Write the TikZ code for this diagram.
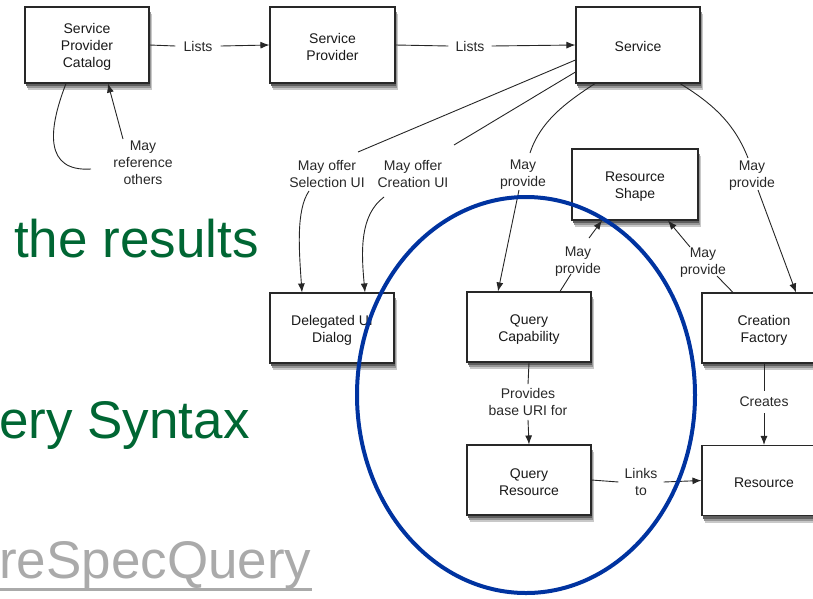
\documentclass[tikz,border=0pt]{standalone}
\usepackage{fontspec}
\setmainfont{Liberation Sans}
\usetikzlibrary{arrows.meta}
\definecolor{boxline}{RGB}{40,40,40}
\definecolor{boxtext}{RGB}{25,25,25}
\definecolor{lbltext}{RGB}{40,40,40}
\definecolor{slidegreen}{RGB}{0,102,51}
\definecolor{linkgray}{RGB}{170,170,170}
\definecolor{ringblue}{RGB}{0,51,160}
\definecolor{shadowA}{RGB}{200,200,200}
\definecolor{shadowB}{RGB}{150,150,150}
\definecolor{shadowC}{RGB}{95,95,95}
\newcommand{\fs}{\rule{0pt}{14pt}}
\begin{document}
\begin{tikzpicture}[x=1pt,y=-1pt,
  box/.style={draw=boxline, line width=1.1pt, fill=white, minimum width=124pt,
    minimum height=70pt, align=center, text=boxtext, inner sep=2pt,
    font=\fontsize{14}{17}\selectfont},
  lbl/.style={align=center, text=lbltext, inner sep=2pt,
    font=\fontsize{14}{17}\selectfont},
  conn/.style={draw=black!85, line width=0.9pt},
  arr/.style={conn, -{Latex[length=9pt,width=7pt]}},
  bigtext/.style={inner sep=0pt, font=\fontsize{53}{60}\selectfont}
]
\useasboundingbox (0,0) rectangle (813,598);

% slide text behind
\node[bigtext, text=slidegreen, anchor=base west] (t1) at (14,257) {the results};
\node[bigtext, text=slidegreen, anchor=base west] (t2) at (-1,438) {ery Syntax};
\node[bigtext, text=linkgray, anchor=base west] (t3) at (-1,578) {reSpecQuery};
\draw[linkgray, line width=2.6pt] ([yshift=-0.5pt]t3.south west) -- ([yshift=-0.5pt]t3.south east);

% box shadows (offset rectangles drawn before the boxes)
\fill[shadowA] (28,14) rectangle (152,90);
\fill[shadowB] (27,12) rectangle (151,88);
\fill[shadowC] (26,10) rectangle (150,86);
\fill[shadowA] (273,14) rectangle (398,90);
\fill[shadowB] (272,12) rectangle (397,88);
\fill[shadowC] (271,10) rectangle (396,86);
\fill[shadowA] (579,14) rectangle (703,90);
\fill[shadowB] (578,12) rectangle (702,88);
\fill[shadowC] (577,10) rectangle (701,86);
\fill[shadowA] (575,156) rectangle (701,227);
\fill[shadowB] (574,154) rectangle (700,225);
\fill[shadowC] (573,152) rectangle (699,223);
\fill[shadowA] (273,300) rectangle (397,370);
\fill[shadowB] (272,298) rectangle (396,368);
\fill[shadowC] (271,296) rectangle (395,366);
\fill[shadowA] (470,299) rectangle (594,369);
\fill[shadowB] (469,297) rectangle (593,367);
\fill[shadowC] (468,295) rectangle (592,365);
\fill[shadowA] (705,300) rectangle (829,370);
\fill[shadowB] (704,298) rectangle (828,368);
\fill[shadowC] (703,296) rectangle (827,366);
\fill[shadowA] (470,452) rectangle (594,522);
\fill[shadowB] (469,450) rectangle (593,520);
\fill[shadowC] (468,448) rectangle (592,518);
\fill[shadowA] (705,452.5) rectangle (829,522.5);
\fill[shadowB] (704,450.5) rectangle (828,520.5);
\fill[shadowC] (703,448.5) rectangle (827,518.5);

% boxes
\node[box, minimum height=76pt] (spc) at (87,45) {\fs Service\\Provider\\Catalog};
\node[box, minimum height=76pt, minimum width=125pt] (sp) at (332.5,45) {\fs Service\\Provider};
\node[box, minimum height=76pt] (svc) at (638,45) {\fs Service};
\node[box, minimum height=71pt, minimum width=126pt] (rs) at (635,184.5) {\fs Resource\\Shape};
\node[box] (dui) at (332,328) {\fs Delegated UI\\Dialog};
\node[box] (qc) at (529,327) {\fs Query\\Capability};
\node[box] (cf) at (764,328) {\fs Creation\\Factory};
\node[box] (qr) at (529,480) {\fs Query\\Resource};
\node[box] (res) at (764,480.5) {\fs Resource};

% labels
\node[lbl, inner xsep=8pt] (l1) at (198,46) {Lists};
\node[lbl, inner xsep=7pt] (l2) at (470,46) {Lists};
\node[lbl] (mr) at (143,162.5) {May\\reference\\others};
\node[lbl] (ms) at (327,173.5) {May offer\\Selection UI};
\node[lbl] (mc) at (413,173.5) {May offer\\Creation UI};
\node[lbl] (mp1) at (523,175) {May\\provide};
\node[lbl] (mp2) at (752,176) {May\\provide};
\node[lbl] (mp3) at (578,262) {May\\provide};
\node[lbl] (mp4) at (703,263) {May\\provide};
\node[lbl, inner ysep=4pt] (pb) at (528,402) {Provides\\base URI for};
\node[lbl, inner ysep=6pt] (cr) at (764,402) {Creates};
\node[lbl, inner xsep=6pt] (lt) at (641,482) {Links\\to};

% free-end coordinates
\coordinate (mrA) at (91,169);
\coordinate (mrB) at (123,139);
\coordinate (msA) at (358,152);
\coordinate (msB) at (309,191);
\coordinate (mcA) at (454,145);
\coordinate (mcB) at (384,197);
\coordinate (mp1A) at (530,153);
\coordinate (mp1B) at (519,190);
\coordinate (mp2A) at (748,158);
\coordinate (mp2B) at (758,190);
\coordinate (mp3A) at (571,274);
\coordinate (mp3B) at (589,238);
\coordinate (mp4A) at (717,276);
\coordinate (mp4B) at (690,247);

% connectors
\draw[conn] (spc.east) -- (l1.west);
\draw[arr] (l1.east) -- (sp.west);
\draw[conn] (sp.east) -- (l2.west);
\draw[arr] (l2.east) -- (svc.west);

\draw[conn] ([xshift=-21pt]spc.south) .. controls (48,130) and (44,172) .. (mrA);
\draw[arr] (mrB) -- ([xshift=21pt]spc.south);

\draw[conn] ([yshift=-15pt]svc.west) -- (msA);
\draw[arr] (msB) .. controls (296,210) and (299,250) .. ([xshift=-30pt]dui.north);

\draw[conn] ([yshift=-27pt]svc.west) -- (mcA);
\draw[arr] (mcB) .. controls (360,215) and (361,250) .. ([xshift=33pt]dui.north);

\draw[conn] ([xshift=-43pt]svc.south) .. controls (565,103) and (540,122) .. (mp1A);
\draw[arr] (mp1B) -- ([xshift=-31pt]qc.north);

\draw[conn] ([xshift=42pt]svc.south) .. controls (715,105) and (735,125) .. (mp2A);
\draw[arr] (mp2B) -- ([xshift=32pt]cf.north);

\draw[conn] ([xshift=31pt]qc.north) -- (mp3A);
\draw[arr] (mp3B) -- ([xshift=-33pt]rs.south);

\draw[conn] ([xshift=-31pt]cf.north) -- (mp4A);
\draw[arr] (mp4B) -- ([xshift=33pt]rs.south);

\draw[conn] (qc.south) -- (pb.north);
\draw[arr] (pb.south) -- (qr.north);

\draw[conn] (cf.south) -- (cr.north);
\draw[arr] (cr.south) -- (res.north);

\draw[conn] (qr.east) -- (lt.west);
\draw[arr] (lt.east) -- (res.west);

% blue ring
\draw[ringblue, line width=4pt] (526,395) ellipse [x radius=169, y radius=198];
\end{tikzpicture}
\end{document}
